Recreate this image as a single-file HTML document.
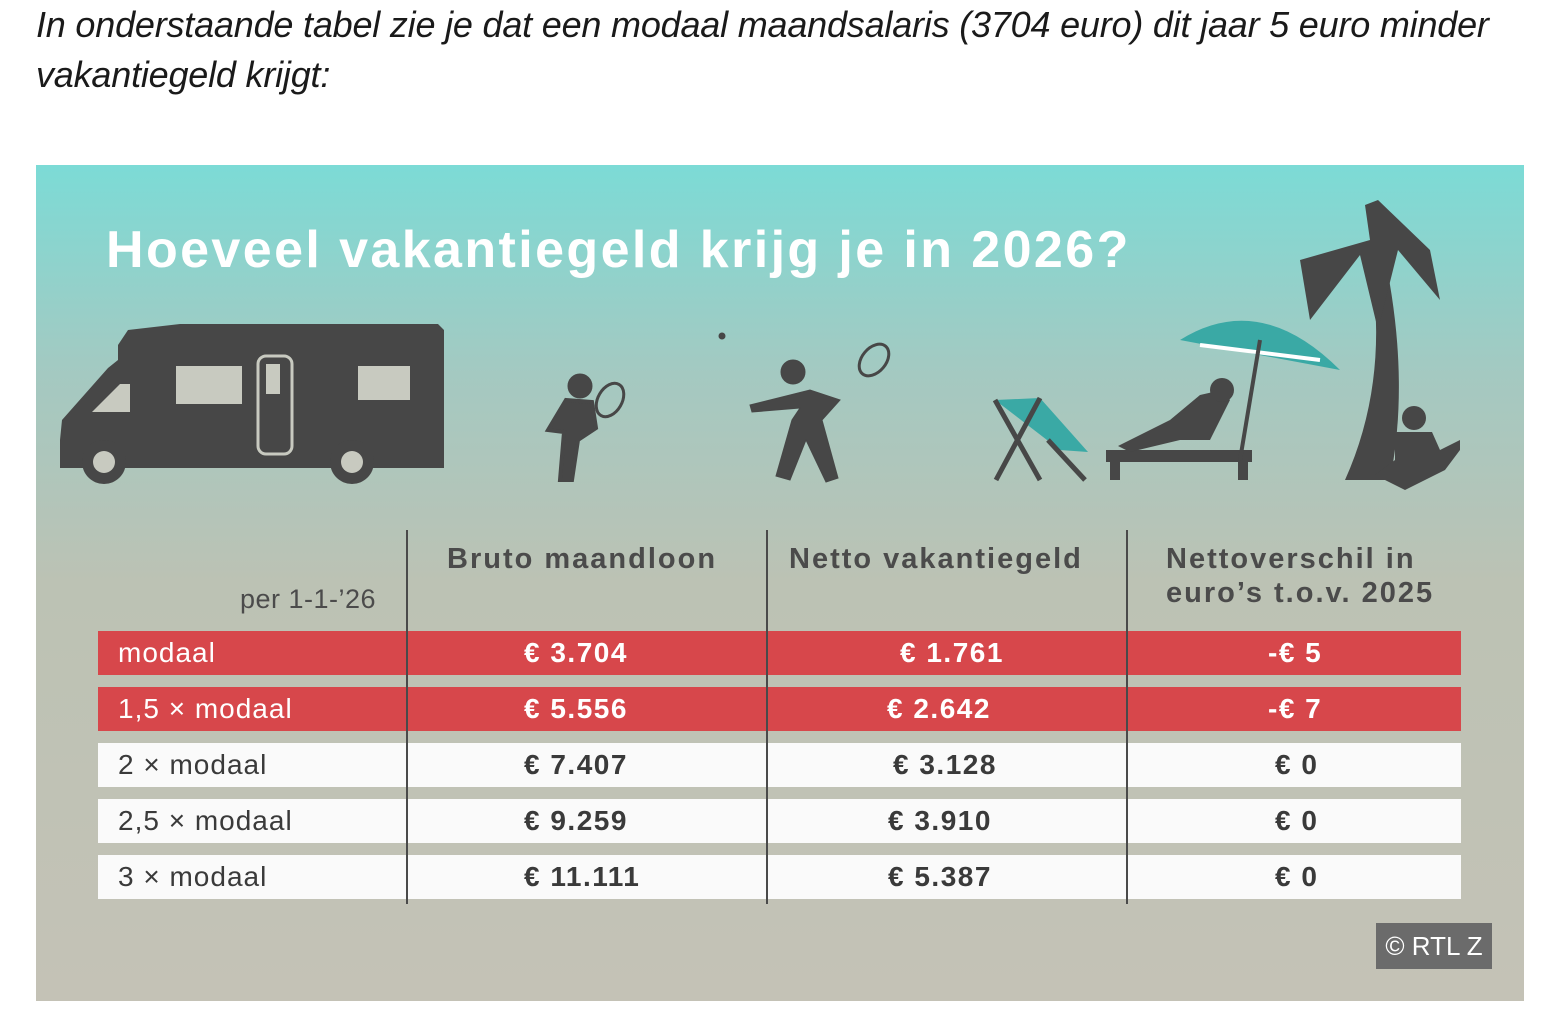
<!DOCTYPE html>
<html><head><meta charset="utf-8"><style>
*{margin:0;padding:0;box-sizing:border-box}
body{width:1556px;height:1026px;background:#fff;position:relative;overflow:hidden;font-family:"Liberation Sans",sans-serif}
.intro{position:absolute;left:36px;top:0px;font-size:36px;font-style:italic;color:#1a1a1a;line-height:50px;letter-spacing:-0.2px;white-space:nowrap}
.box{position:absolute;left:36px;top:165px;width:1488px;height:836px;background:linear-gradient(#7cdbd6 0%,#a4c9c1 25%,#bcc2b4 50%,#c4c2b6 100%)}
.title{position:absolute;left:106px;top:220px;font-size:52px;font-weight:bold;color:#fff;letter-spacing:2.4px;white-space:nowrap}
.hdr{position:absolute;font-size:29px;font-weight:bold;color:#4b4b4b;line-height:34px;letter-spacing:2px;white-space:nowrap}
.row{position:absolute;left:98px;width:1363px;height:44px;font-size:28px;line-height:44px;letter-spacing:1px}
.row span{position:absolute;top:0;white-space:nowrap}
.red{background:#d7474b;color:#fff}
.wh{background:#fafafa;color:#3a3a3a}
.vl{position:absolute;width:2px;background:#4a4a4a;top:530px;height:374px}
.b{font-weight:bold;letter-spacing:1.5px}
.rtl{position:absolute;left:1376px;top:923px;width:116px;height:46px;background:#6b6b6b;color:#fff;font-size:26px;line-height:46px;text-align:center}
</style></head><body>
<div class="intro">In onderstaande tabel zie je dat een modaal maandsalaris (3704 euro) dit jaar 5 euro minder<br>vakantiegeld krijgt:</div>
<div class="box"></div>
<div class="title">Hoeveel vakantiegeld krijg je in 2026?</div>
<svg style="position:absolute;left:0;top:0" width="1556" height="1026">
<g fill="#474747">
<path d="M60 440 L62 420 L108 368 L118 360 L118 345 L128 330 L180 324 L438 324 L444 330 L444 468 L60 468 Z"/>
<circle cx="104" cy="462" r="22"/><circle cx="352" cy="462" r="22"/>
</g>
<g fill="#c8cac0"><circle cx="104" cy="462" r="11"/><circle cx="352" cy="462" r="11"/>
<rect x="176" y="366" width="66" height="38"/><rect x="358" y="366" width="52" height="34"/>
<path d="M92 412 L120 384 L130 384 L130 412Z"/></g>
<rect x="258" y="356" width="34" height="98" rx="8" fill="none" stroke="#c8cac0" stroke-width="3"/>
<rect x="266" y="364" width="14" height="30" fill="#c8cac0"/>
<g fill="#474747" stroke="#474747">
<circle cx="580" cy="386" r="12"/><path d="M566 400 L592 402 L596 428 L578 440 L572 480 L560 480 L564 432 L548 430 Z" stroke-width="4"/>
<circle cx="793" cy="372" r="12"/><path d="M750 405 L810 390 L840 400 L822 420 L838 478 L826 482 L806 440 L790 480 L776 476 L792 420 L800 408 L752 412Z"/>
<circle cx="722" cy="336" r="3"/>
</g>
<g fill="none" stroke="#474747" stroke-width="3"><ellipse cx="610" cy="400" rx="12" ry="18" transform="rotate(30 610 400)"/><ellipse cx="874" cy="360" rx="12" ry="18" transform="rotate(40 874 360)"/></g>
<path d="M995 400 L1040 398 L1088 452 L1060 450 Z" fill="#3aa9a5"/>
<g stroke="#474747" stroke-width="5" fill="none"><path d="M995 400 L1040 480 M1040 398 L996 480 M1048 440 L1085 480"/></g>
<g fill="#474747">
<rect x="1106" y="450" width="146" height="12"/><rect x="1110" y="460" width="10" height="20"/><rect x="1238" y="460" width="10" height="20"/>
<path d="M1118 446 L1170 420 L1200 395 L1222 390 L1230 400 L1210 440 L1180 440 L1130 452Z"/>
<circle cx="1222" cy="390" r="12"/>
<path d="M1345 480 Q1390 380 1370 260 L1385 258 Q1410 380 1390 480Z"/>
<path d="M1370 240 L1300 260 L1310 320 L1360 255 L1378 330 L1398 250 L1440 300 L1430 250 L1378 200 L1365 205Z"/>
<circle cx="1414" cy="418" r="12"/><path d="M1395 432 L1432 432 L1440 450 L1460 440 L1460 450 L1445 470 L1405 490 L1375 475 L1395 460Z"/>
</g>
<path d="M1180 340 Q1260 290 1340 370 Z" fill="#3aa9a5"/>
<path d="M1200 345 L1320 360" stroke="#fff" stroke-width="4"/>
<line x1="1260" y1="340" x2="1240" y2="460" stroke="#474747" stroke-width="4"/>
</svg>
<div class="hdr" style="left:240px;top:582px;font-weight:normal;font-size:27px;letter-spacing:0.5px">per 1-1-’26</div>
<div class="hdr" style="left:447px;top:542px">Bruto maandloon</div>
<div class="hdr" style="left:789px;top:542px">Netto vakantiegeld</div>
<div class="hdr" style="left:1166px;top:542px">Nettoverschil in<br>euro’s t.o.v. 2025</div>
<div class="row red" style="top:631px"><span style="left:20px">modaal</span><span class="b" style="left:426px">€ 3.704</span><span class="b" style="left:802px">€ 1.761</span><span class="b" style="left:1170px">-€ 5</span></div>
<div class="row red" style="top:687px"><span style="left:20px">1,5 × modaal</span><span class="b" style="left:426px">€ 5.556</span><span class="b" style="left:789px">€ 2.642</span><span class="b" style="left:1170px">-€ 7</span></div>
<div class="row wh" style="top:743px"><span style="left:20px">2 × modaal</span><span class="b" style="left:426px">€ 7.407</span><span class="b" style="left:795px">€ 3.128</span><span class="b" style="left:1177px">€ 0</span></div>
<div class="row wh" style="top:799px"><span style="left:20px">2,5 × modaal</span><span class="b" style="left:426px">€ 9.259</span><span class="b" style="left:790px">€ 3.910</span><span class="b" style="left:1177px">€ 0</span></div>
<div class="row wh" style="top:855px"><span style="left:20px">3 × modaal</span><span class="b" style="left:426px">€ 11.111</span><span class="b" style="left:790px">€ 5.387</span><span class="b" style="left:1177px">€ 0</span></div>
<div class="vl" style="left:406px"></div><div class="vl" style="left:766px"></div><div class="vl" style="left:1126px"></div>
<div class="rtl">© RTL Z</div>
</body></html>
